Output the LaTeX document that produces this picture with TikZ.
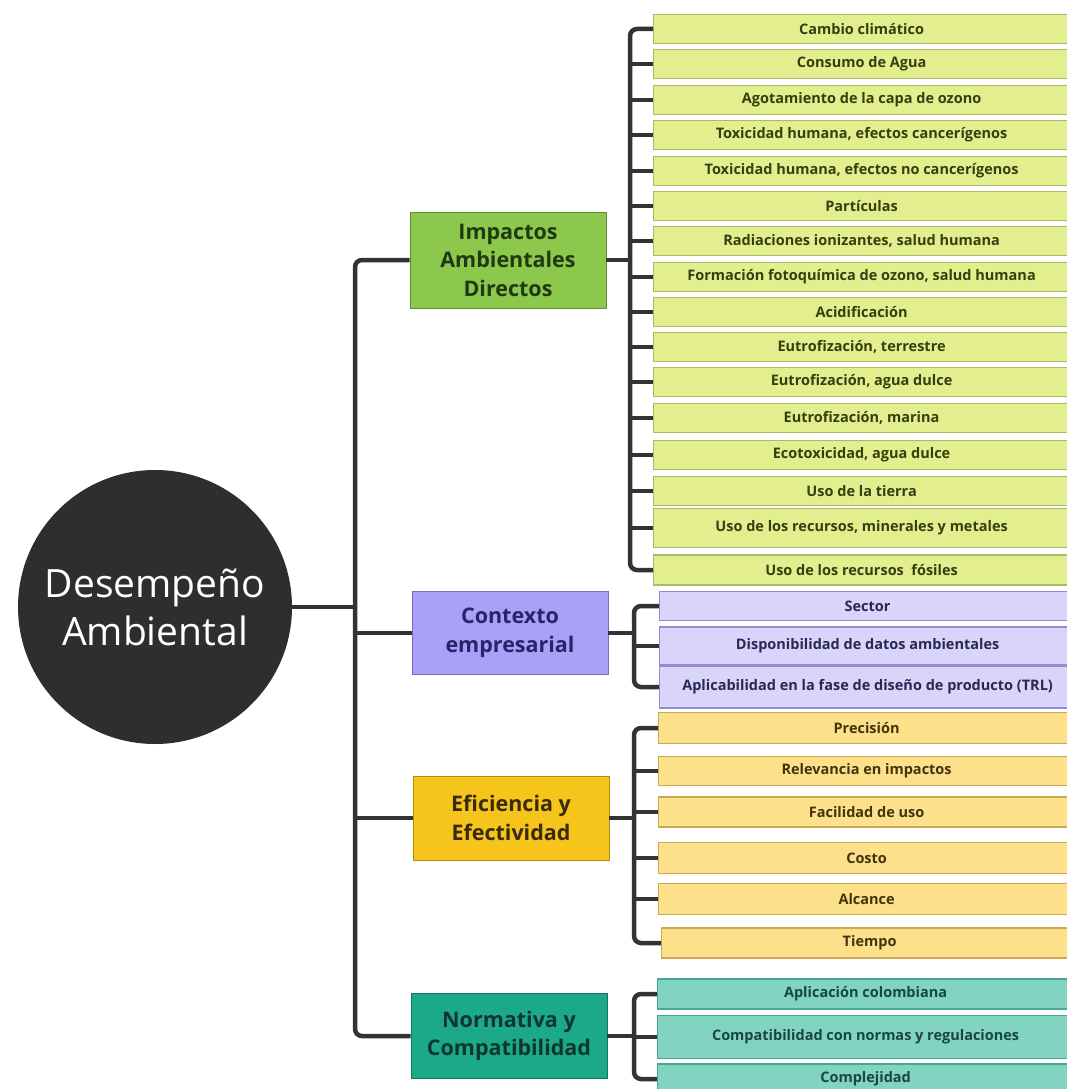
\documentclass[tikz,border=0pt]{standalone}
\usepackage{fontspec}
\setmainfont{Open Sans}
\begin{document}
\begin{tikzpicture}[x=1pt,y=-1pt,
  conn/.style={line width=4.5pt,draw=black!80},
  cat/.style={rectangle,draw=#1!70!black,line width=0.8pt,fill=#1,minimum width=196pt,align=center,font=\fontsize{21.5}{28.5}\selectfont\bfseries,inner sep=2pt},
  leafbase/.style={rectangle,line width=1.2pt,minimum width=416pt,anchor=west,font=\fontsize{14.5}{16}\selectfont\bfseries,inner sep=1pt},
  lG/.style={leafbase,fill=leafG,draw=leafGd,text=leafGt},
  lP/.style={leafbase,fill=leafP,draw=leafPd,text=leafPt},
  lY/.style={leafbase,fill=leafY,draw=leafYd,text=leafYt},
  lT/.style={leafbase,fill=leafT,draw=leafTd,text=leafTt}]
\definecolor{leafG}{HTML}{E3EE8E}\definecolor{leafGd}{HTML}{AEB866}\definecolor{leafGt}{HTML}{34400F}
\definecolor{leafP}{HTML}{D9D4FA}\definecolor{leafPd}{HTML}{938DD0}\definecolor{leafPt}{HTML}{2A2758}
\definecolor{leafY}{HTML}{FDE08A}\definecolor{leafYd}{HTML}{CDA955}\definecolor{leafYt}{HTML}{44330E}
\definecolor{leafT}{HTML}{80D4C1}\definecolor{leafTd}{HTML}{4AA690}\definecolor{leafTt}{HTML}{1A4640}
\definecolor{catG}{HTML}{8CC84B}\definecolor{catP}{HTML}{A9A1F7}\definecolor{catY}{HTML}{F6C51C}\definecolor{catT}{HTML}{1BA98A}
\definecolor{catGt}{HTML}{1F3A12}\definecolor{catPt}{HTML}{28236A}\definecolor{catYt}{HTML}{3A2A08}\definecolor{catTt}{HTML}{0F3530}
\useasboundingbox[fill=white] (0,0) rectangle (1066,1089);

% centre
\node[circle,fill=black!82,minimum size=274pt,text=white,align=center,font=\fontsize{39}{48}\selectfont] (c) at (155,607) {Desempeño\\Ambiental};

% categories
\node[cat=catG,minimum height=96pt,text=catGt] (imp) at (508,260) {Impactos\\Ambientales\\Directos};
\node[cat=catP,minimum height=83pt,text=catPt] (ctx) at (510,633) {Contexto\\empresarial};
\node[cat=catY,minimum height=84pt,text=catYt] (efi) at (511,818) {Eficiencia y\\Efectividad};
\node[cat=catT,minimum height=85pt,text=catTt] (nor) at (509,1036) {Normativa y\\Compatibilidad};

% leaves: impactos
\node[lG,minimum height=29pt] (g1) at (653,29) {Cambio climático};
\node[lG,minimum height=29pt] (g2) at (653,64) {Consumo de Agua};
\node[lG,minimum height=29pt] (g3) at (653,100) {Agotamiento de la capa de ozono};
\node[lG,minimum height=29pt] (g4) at (653,135) {Toxicidad humana, efectos cancerígenos};
\node[lG,minimum height=29pt] (g5) at (653,171) {Toxicidad humana, efectos no cancerígenos};
\node[lG,minimum height=29pt] (g6) at (653,206) {Partículas};
\node[lG,minimum height=29pt] (g7) at (653,241) {Radiaciones ionizantes, salud humana};
\node[lG,minimum height=29pt] (g8) at (653,277) {Formación fotoquímica de ozono, salud humana};
\node[lG,minimum height=29pt] (g9) at (653,312) {Acidificación};
\node[lG,minimum height=29pt] (g10) at (653,347) {Eutrofización, terrestre};
\node[lG,minimum height=29pt] (g11) at (653,382) {Eutrofización, agua dulce};
\node[lG,minimum height=29pt] (g12) at (653,418) {Eutrofización, marina};
\node[lG,minimum height=29pt] (g13) at (653,455) {Ecotoxicidad, agua dulce};
\node[lG,minimum height=29pt] (g14) at (653,491) {Uso de la tierra};
\node[lG,minimum height=39pt] (g15) at (653,528) {Uso de los recursos, minerales y metales};
\node[lG,minimum height=30pt] (g16) at (653,570) {Uso de los recursos~ fósiles};

% leaves: contexto
\node[lP,minimum height=29pt] (p1) at (659,606) {Sector};
\node[lP,minimum height=38pt] (p2) at (659,646) {Disponibilidad de datos ambientales};
\node[lP,minimum height=42pt] (p3) at (659,687) {Aplicabilidad en la fase de diseño de producto (TRL)};

% leaves: eficiencia
\node[lY,minimum height=31pt] (y1) at (658,728) {Precisión};
\node[lY,minimum height=29pt] (y2) at (658,771) {Relevancia en impactos};
\node[lY,minimum height=30pt] (y3) at (658,812) {Facilidad de uso};
\node[lY,minimum height=31pt] (y4) at (658,858) {Costo};
\node[lY,minimum height=31pt] (y5) at (658,899) {Alcance};
\node[lY,minimum height=30pt] (y6) at (661,943) {Tiempo};

% leaves: normativa
\node[lT,minimum height=30pt] (t1) at (657,994) {Aplicación colombiana};
\node[lT,minimum height=43pt] (t2) at (657,1037) {Compatibilidad con normas y regulaciones};
\node[lT,minimum height=30pt] (t3) at (657,1079) {Complejidad};

% trunks
\coordinate (T) at (355,0);
\coordinate (TI) at (630,0);
\coordinate (TC) at (634,0);

\draw[conn] (c.east) -- (c.east -| T);
\draw[conn,rounded corners=7pt] (imp.west) -- (imp.west -| T) -- (nor.west -| T) -- (nor.west);
\draw[conn] (ctx.west -| T) -- (ctx.west);
\draw[conn] (efi.west -| T) -- (efi.west);

% impactos sub-tree
\draw[conn] (imp.east) -- (imp.east -| TI);
\draw[conn,rounded corners=7pt] (g1.west) -- (g1.west -| TI) -- (g16.west -| TI) -- (g16.west);
\foreach \k in {2,...,15} {\draw[conn] (g\k.west -| TI) -- (g\k.west);}

% contexto sub-tree
\draw[conn] (ctx.east) -- (ctx.east -| TC);
\draw[conn,rounded corners=7pt] (p1.west) -- (p1.west -| TC) -- (p3.west -| TC) -- (p3.west);
\draw[conn] (p2.west -| TC) -- (p2.west);

% eficiencia sub-tree
\draw[conn] (efi.east) -- (efi.east -| TC);
\draw[conn,rounded corners=7pt] (y1.west) -- (y1.west -| TC) -- (y6.west -| TC) -- (y6.west);
\foreach \k in {2,...,5} {\draw[conn] (y\k.west -| TC) -- (y\k.west);}

% normativa sub-tree
\draw[conn] (nor.east) -- (nor.east -| TC);
\draw[conn,rounded corners=7pt] (t1.west) -- (t1.west -| TC) -- (t3.west -| TC) -- (t3.west);
\draw[conn] (t2.west -| TC) -- (t2.west);
\end{tikzpicture}
\end{document}
